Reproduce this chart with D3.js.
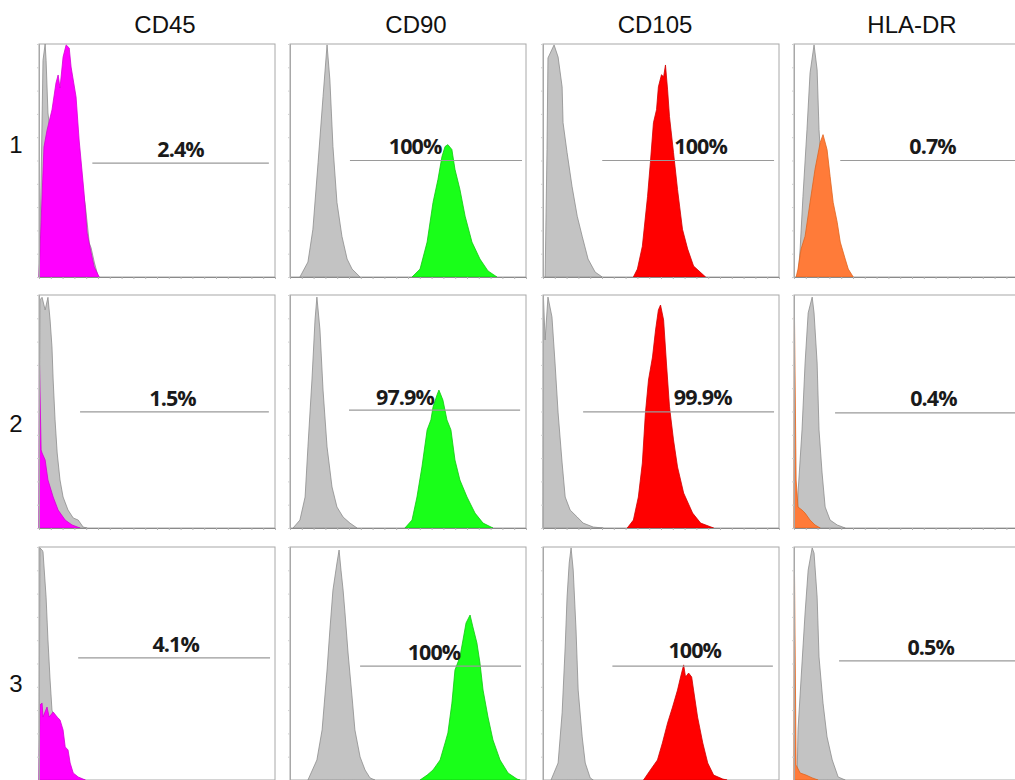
<!DOCTYPE html>
<html>
<head>
<meta charset="utf-8">
<script src="https://cdn.jsdelivr.net/npm/d3@7"></script>
<style>
  body { margin: 0; background: #fff; }
  .canvas svg { display: block; }
</style>
</head>
<body>
<div class="canvas"></div>
<script>
// Column / row labels
const markers = ["CD45", "CD90", "CD105", "HLA-DR"];
const samples = ["1", "2", "3"];
const percentLabels = [
    ["2.4%", "100%", "100%", "0.7%"],
    ["1.5%", "97.9%", "99.9%", "0.4%"],
    ["4.1%", "100%", "100%", "0.5%"]
];

// Histograms: [channel (0-1000), count (% of max)]
// Isotype control (grey), one array per marker column
const isotypeRow1 = [
    [[0,0],[9,41.6],[17,93],[26,100],[30,93],[38,70.4],[51,58.8],[128,50],[170,46],[196,31],[213,14.6],[221,12.4],[234,6.4],[251,0]],
    [[42,0],[76,6.4],[97,20.5],[119,49.1],[140,77.4],[157,99.6],[169,84.6],[182,56],[199,32],[220,17.5],[242,7.7],[263,3.4],[297,0]],
    [[9,0],[17,54.7],[21,94],[47,99.6],[64,94.4],[81,81.6],[85,66.2],[102,53.4],[123,38.9],[145,26.1],[166,17.5],[191,7.7],[221,2.1],[251,0]],
    [[17,0],[26,12],[38,34.6],[55,63.2],[68,87.6],[85,99.6],[98,88.9],[106,63.2],[119,41.9],[153,16.2],[187,3.4],[217,0]]
];
const isotypeRow2 = [
    [[0,0],[4,97.9],[13,99],[26,93.6],[38,99],[47,89.3],[55,77.7],[60,63.5],[68,46.4],[77,32.2],[89,20.6],[102,13.3],[123,7.7],[145,4.3],[166,3.4],[187,0.4],[204,0]],
    [[13,0],[42,3.4],[64,13.3],[76,34.8],[93,63.5],[106,89.3],[114,99.1],[127,85],[140,59.2],[157,34.8],[178,17.6],[199,9],[225,4.7],[254,2.1],[284,0]],
    [[0,0],[2,98.7],[9,80.7],[21,99.1],[38,90.6],[51,70.8],[64,49.4],[81,27.9],[94,13.3],[115,7.7],[145,4.7],[170,2.1],[213,0.4],[255,0]],
    [[13,0],[17,15],[34,42.1],[47,70.8],[60,92.3],[77,99.1],[85,92.3],[98,70.8],[106,42.1],[119,23.6],[132,9],[153,3.4],[183,1.3],[217,0]]
];
const isotypeRow3 = [
    [[0,0],[4,99.6],[13,98.7],[17,97.9],[30,78.5],[38,60.1],[47,42.9],[55,30],[68,25.8],[89,12.9],[111,4.3],[153,0.9],[196,0]],
    [[76,0],[114,8.6],[136,21.5],[157,47.2],[169,64.4],[182,81.5],[199,93.1],[208,98.7],[216,90.1],[225,81.5],[233,71.7],[246,54.5],[263,35.6],[275,21.5],[297,9.9],[318,4.3],[339,0.9],[360,0]],
    [[34,0],[64,7.3],[81,28.8],[94,57.1],[102,78.5],[111,93.1],[119,99.6],[128,90.1],[140,64.4],[149,38.6],[166,18.5],[179,7.3],[200,0.9],[213,0]],
    [[13,0],[17,21.5],[34,50.2],[47,71.7],[60,90.1],[77,99.6],[85,97.4],[98,78.5],[106,52.8],[123,33],[140,18.5],[162,8.6],[187,1.3],[217,0]]
];
// Stained sample (coloured)
const stainedRow1 = [
    [[0,0],[21,55.8],[34,63],[55,71.7],[72,83.3],[81,86.7],[89,81.1],[102,94.4],[115,99.6],[128,98.3],[136,90.1],[157,77.3],[170,58.8],[191,36],[204,18.9],[221,10.3],[234,4.3],[255,0]],
    [[517,0],[551,3.4],[581,15],[606,32],[627,41.9],[644,51.7],[657,56],[669,56.8],[686,54.7],[699,46.2],[720,37.6],[742,26.1],[771,15],[805,7.7],[839,2.6],[877,0]],
    [[383,0],[400,3.4],[421,13.2],[443,34.6],[455,49.1],[468,66.2],[481,71.8],[489,81.6],[502,86.8],[511,85.9],[519,91],[528,80.3],[536,68.8],[553,53.4],[570,37.6],[591,20.5],[613,12],[638,4.7],[689,0]],
    [[9,0],[17,3.4],[30,12],[47,17.5],[68,32],[89,46.2],[111,57.7],[123,61.1],[140,54.7],[153,43.2],[166,32],[183,23.5],[196,15],[217,7.7],[230,3.4],[251,0]]
];
const stainedRow2 = [
    [[0,0],[2,70.8],[9,33.5],[13,32.2],[26,29.2],[38,20.6],[60,13.3],[81,7.7],[111,3.4],[140,1.3],[174,0]],
    [[487,0],[517,3.4],[538,13.3],[559,26.2],[581,42.1],[597,46.4],[606,51.9],[623,57.1],[631,59.2],[648,54.9],[665,46.4],[682,42.1],[699,29.2],[720,20.6],[750,13.3],[784,6.4],[818,2.1],[860,0]],
    [[357,0],[383,3.4],[404,13.3],[421,27.9],[434,49.4],[447,63.5],[464,73.4],[477,85],[489,93.6],[498,95.7],[511,89.3],[523,70.8],[536,52],[553,37.8],[570,26.2],[596,15],[634,6.4],[668,2.1],[723,0]],
    [[0,0],[2,90.6],[9,20.6],[17,9],[34,7.7],[47,6.4],[68,3.4],[89,1.3],[111,0]]
];
const stainedRow3 = [
    [[0,0],[4,32.2],[13,33],[17,27],[34,31.3],[43,27],[60,29.2],[77,27],[89,25.8],[102,21.5],[111,14.2],[123,12.9],[132,7.3],[145,3],[166,1.3],[196,0]],
    [[551,0],[581,2.1],[606,4.3],[636,8.6],[657,15.9],[669,20.2],[686,33],[699,47.2],[720,52.8],[733,60.1],[746,67.4],[763,70.8],[775,65.7],[792,58.8],[805,50.2],[818,38.6],[839,27],[860,17.2],[890,8.6],[924,3],[962,0.4],[975,0]],
    [[426,0],[455,4.3],[485,8.6],[506,15.9],[528,24.5],[549,31.3],[570,38.6],[583,44.2],[596,49.4],[604,44.2],[617,45.9],[630,44.2],[638,38.6],[655,27],[677,15.9],[698,7.3],[723,2.1],[762,0.4],[780,0]],
    [[0,0],[2,90.1],[9,6.4],[26,3],[51,2.1],[77,0.9],[102,0]]
];

// Marker gates (channel units) and label anchor
const gateStart = [[226, 254, 251, 196], [174, 250, 170, 174], [166, 297, 294, 191]];
const gateEnd   = [[974, 983, 979, 1000], [974, 975, 979, 1000], [979, 979, 974, 1000]];
const gateLevel = [[48.9, 50, 50, 50], [49.8, 50.6, 49.8, 49.4], [52.4, 48.9, 48.9, 51.1]];
const labelX    = [[600, 530, 668, 587], [566, 487, 677, 591], [579, 610, 643, 579]];
const labelY    = [[51.5, 52.6, 52.6, 52.6], [52.4, 52.8, 52.8, 52.4], [54.9, 51.5, 52.4, 53.6]];

const isotype = [isotypeRow1, isotypeRow2, isotypeRow3];
const stained = [stainedRow1, stainedRow2, stainedRow3];

const markerFill   = ["#ff00ff", "#19ff19", "#ff0000", "#ff7b39"];
const markerStroke = ["#d400d4", "#10c810", "#d00000", "#e0641e"];

// Layout
const width = 1015, height = 780;
const panelW = 236, panelH = 233;
const colX = [39, 290, 543, 794];
const rowY = [44, 295, 547];
const titleX = [165, 416, 655, 912];
const rowLabelY = [153, 432, 692];

const svg = d3.select(".canvas")
    .append("svg")
    .attr("width", width)
    .attr("height", height);

const x = d3.scaleLinear().domain([0, 1000]).range([0, panelW]);
const y = d3.scaleLinear().domain([0, 100]).range([panelH, 0]);

const area = d3.area()
    .x(d => x(d[0]))
    .y0(panelH)
    .y1(d => y(d[1]));

// Column titles
svg.selectAll("text.title")
    .data(markers)
    .enter()
    .append("text")
    .attr("class", "title")
    .attr("x", (d, i) => titleX[i])
    .attr("y", 33)
    .attr("text-anchor", "middle")
    .attr("font-family", "Liberation Sans, Arial, sans-serif")
    .attr("font-size", 24)
    .attr("fill", "#111")
    .text(d => d);

// Row labels
svg.selectAll("text.row")
    .data(samples)
    .enter()
    .append("text")
    .attr("class", "row")
    .attr("x", 16)
    .attr("y", (d, i) => rowLabelY[i])
    .attr("text-anchor", "middle")
    .attr("font-family", "Liberation Sans, Arial, sans-serif")
    .attr("font-size", 24)
    .attr("fill", "#111")
    .text(d => d);

samples.forEach((s, r) => {
    markers.forEach((m, c) => {
        const g = svg.append("g")
            .attr("transform", `translate(${colX[c]}, ${rowY[r]})`);

        // frame
        g.append("rect")
            .attr("width", panelW)
            .attr("height", panelH)
            .attr("fill", "#fff")
            .attr("stroke", "#a8a8a8")
            .attr("stroke-width", 1);

        // histograms: isotype first, stained on top
        g.append("path")
            .datum(isotype[r][c])
            .attr("d", area)
            .attr("fill", "#c3c3c3")
            .attr("stroke", "#8d8d8d")
            .attr("stroke-width", 0.8);

        g.append("path")
            .datum(stained[r][c])
            .attr("d", area)
            .attr("fill", markerFill[c])
            .attr("stroke", markerStroke[c])
            .attr("stroke-width", 0.8);

        // axes with tiny ticks
        const xAxis = d3.axisBottom(x).ticks(20).tickSize(2).tickFormat("");
        const yAxis = d3.axisLeft(y).ticks(10).tickSize(2).tickFormat("");
        g.append("g")
            .attr("transform", `translate(0, ${panelH})`)
            .call(xAxis)
            .call(a => a.select(".domain").attr("stroke", "#8a8a8a"))
            .call(a => a.selectAll(".tick line").attr("stroke", "#b5b5b5"));
        g.append("g")
            .call(yAxis)
            .call(a => a.select(".domain").attr("stroke", "#a8a8a8"))
            .call(a => a.selectAll(".tick line").attr("stroke", "#cfcfcf"));

        // gate
        g.append("line")
            .attr("x1", x(gateStart[r][c]))
            .attr("x2", x(gateEnd[r][c]))
            .attr("y1", y(gateLevel[r][c]))
            .attr("y2", y(gateLevel[r][c]))
            .attr("stroke", "#9a9a9a")
            .attr("stroke-width", 1.2);

        g.append("text")
            .attr("x", x(labelX[r][c]))
            .attr("y", y(labelY[r][c]))
            .attr("text-anchor", "middle")
            .attr("font-family", "Open Sans, sans-serif")
            .attr("font-weight", 700)
            .attr("font-size", 21.5)
            .attr("letter-spacing", -0.9)
            .attr("fill", "#1a1a1a")
            .text(percentLabels[r][c]);
    });
});
</script>
</body>
</html>
